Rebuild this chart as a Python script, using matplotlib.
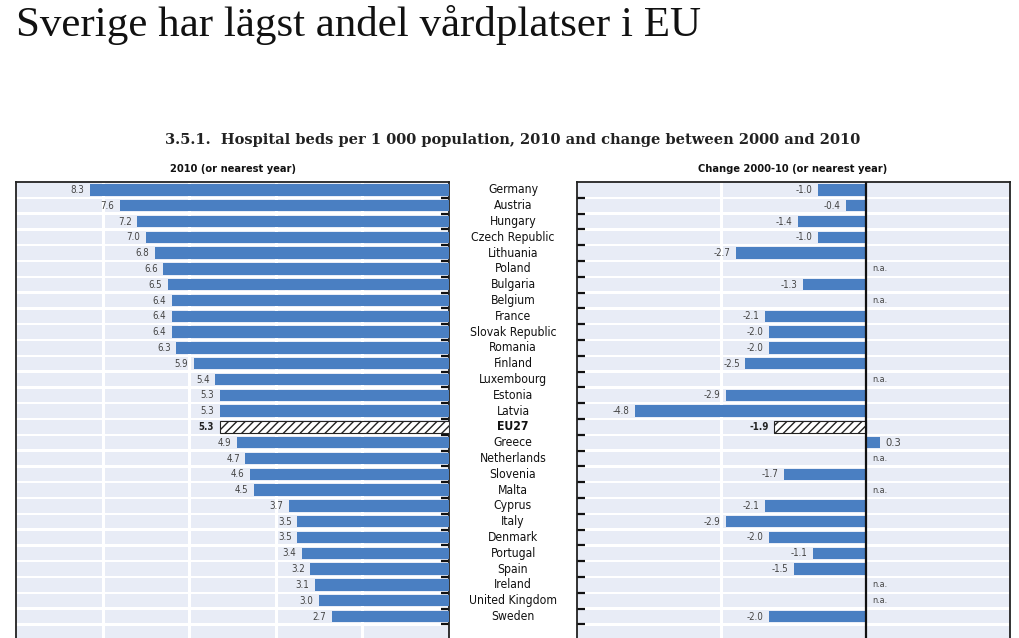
import matplotlib
matplotlib.use("Agg")
import matplotlib.pyplot as plt
import matplotlib.transforms as mtransforms
from matplotlib import font_manager
import numpy as np

countries = ["Germany", "Austria", "Hungary", "Czech Republic", "Lithuania", "Poland",
             "Bulgaria", "Belgium", "France", "Slovak Republic", "Romania", "Finland",
             "Luxembourg", "Estonia", "Latvia", "EU27", "Greece", "Netherlands", "Slovenia",
             "Malta", "Cyprus", "Italy", "Denmark", "Portugal", "Spain", "Ireland",
             "United Kingdom", "Sweden"]
beds_2010 = [8.3, 7.6, 7.2, 7.0, 6.8, 6.6, 6.5, 6.4, 6.4, 6.4, 6.3, 5.9, 5.4, 5.3, 5.3,
             5.3, 4.9, 4.7, 4.6, 4.5, 3.7, 3.5, 3.5, 3.4, 3.2, 3.1, 3.0, 2.7]
change_2000_10 = [-1.0, -0.4, -1.4, -1.0, -2.7, None, -1.3, None, -2.1, -2.0, -2.0, -2.5,
                  None, -2.9, -4.8, -1.9, 0.3, None, -1.7, None, -2.1, -2.9, -2.0, -1.1,
                  -1.5, None, None, -2.0]
highlight = "EU27"

BLUE = "#4a7fc2"
BAND = "#e8ecf6"

# condensed sans if one is on the system
names = {f.name for f in font_manager.fontManager.ttflist}
cond = [f for f in font_manager.fontManager.ttflist
        if f.name == "DejaVu Sans" and "ondensed" in str(f.stretch) + f.fname]
if "Liberation Sans Narrow" in names:
    NARROW = dict(family=["Liberation Sans Narrow", "DejaVu Sans"])
elif cond:
    NARROW = dict(family=["DejaVu Sans"], stretch="condensed")
else:
    NARROW = dict(family=["Liberation Sans"])

W, H = 1019, 638
fig = plt.figure(figsize=(W / 100, H / 100), dpi=100)

n_rows = 30  # 28 countries plus empty rows below (cut off by the page)
row_px = 15.8
top_px = 182
ax_h = n_rows * row_px / H
ax_bottom = 1 - top_px / H - ax_h

axL = fig.add_axes([16 / W, ax_bottom, 433 / W, ax_h])
axR = fig.add_axes([577 / W, ax_bottom, 433 / W, ax_h])


def style(ax, xlim, xticks, tick_side):
    ax.set_xlim(*xlim)
    ax.set_ylim(n_rows - 0.5, -0.5)
    for i in range(n_rows):
        ax.axhspan(i - 0.43, i + 0.43, color=BAND, lw=0, zorder=0)
    for xt in xticks:
        ax.axvline(xt, color="white", lw=2.2, zorder=1)
    ax.set_xticks([])
    ax.set_yticks(np.arange(0.5, n_rows - 1, 1))
    ax.set_yticklabels([])
    ax.yaxis.set_ticks_position(tick_side)
    ax.tick_params(axis="y", direction="in", length=6, width=1.6, color="#111111")
    for s in ax.spines.values():
        s.set_color("#222222")
        s.set_linewidth(1.3)


# left panel: 2010 levels, bars grow leftwards
style(axL, (10, 0), [2, 4, 6, 8], "right")
for i, (c, v) in enumerate(zip(countries, beds_2010)):
    if c == highlight:
        axL.barh(i, v, height=0.72, color="white", edgecolor="#222222", hatch="////",
                 lw=0.8, zorder=3)
        axL.annotate(f"{v:.1f}", (v, i), xytext=(-4, 0), textcoords="offset points",
                     ha="right", va="center", fontsize=7, fontweight="bold",
                     color="#222222", **NARROW)
    else:
        axL.barh(i, v, height=0.72, color=BLUE, lw=0, zorder=3)
        axL.annotate(f"{v:.1f}", (v, i), xytext=(-4, 0), textcoords="offset points",
                     ha="right", va="center", fontsize=7, color="#444444", **NARROW)

# right panel: change 2000-10
style(axR, (-6, 3), [-3], "left")
axR.axvline(0, color="#111111", lw=1.6, zorder=4)
for i, (c, v) in enumerate(zip(countries, change_2000_10)):
    if v is None:
        axR.annotate("n.a.", (0, i), xytext=(5, 0), textcoords="offset points",
                     ha="left", va="center", fontsize=6.5, color="#444444", **NARROW)
        continue
    if c == highlight:
        axR.barh(i, v, height=0.72, color="white", edgecolor="#222222", hatch="////",
                 lw=0.8, zorder=3)
    else:
        axR.barh(i, v, height=0.72, color=BLUE, lw=0, zorder=3)
    off, ha = ((-4, "right") if v < 0 else (4, "left"))
    axR.annotate(f"{v:.1f}", (v, i), xytext=(off, 0), textcoords="offset points",
                 ha=ha, va="center", fontsize=7 if v < 0 else 8,
                 fontweight="bold" if c == highlight else "normal",
                 color="#222222" if c == highlight else "#444444", **NARROW)

# country names between the panels
trans = mtransforms.blended_transform_factory(fig.transFigure, axL.transData)
for i, c in enumerate(countries):
    fig.text(513 / W, i, c, transform=trans, ha="center", va="center", fontsize=8.7,
             fontweight="bold" if c == highlight else "normal", color="#111111",
             **NARROW)

# titles
fig.text(16 / W, 1 - 25 / H, "Sverige har lägst andel vårdplatser i EU", ha="left",
         va="center", fontsize=31, family=["Liberation Serif", "DejaVu Serif"],
         color="#111111")
fig.text(513 / W, 1 - 140 / H,
         "3.5.1.  Hospital beds per 1 000 population, 2010 and change between 2000 and 2010",
         ha="center", va="center", fontsize=10.5, fontweight="bold",
         family=["DejaVu Serif"], color="#222222")
fig.text(233 / W, 1 - 169 / H, "2010 (or nearest year)", ha="center", va="center",
         fontsize=7.9, fontweight="bold", color="#111111", **NARROW)
fig.text(793 / W, 1 - 169 / H, "Change 2000-10 (or nearest year)", ha="center",
         va="center", fontsize=7.9, fontweight="bold", color="#111111", **NARROW)

fig.savefig("out.png", dpi=100)
